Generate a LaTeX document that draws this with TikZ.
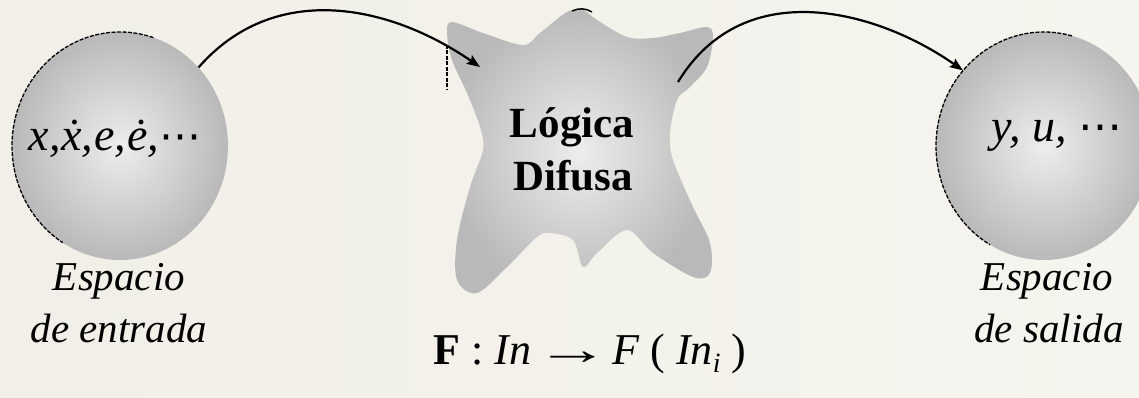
\documentclass[tikz,border=0pt]{standalone}
\usepackage{fontspec}
\setmainfont{Liberation Serif}
\newfontfamily\symfont{DejaVu Sans}
\usetikzlibrary{shapes.geometric,arrows.meta}

\definecolor{bgleft}{HTML}{F1EFE7}
\definecolor{bgmid}{HTML}{FEFEFD}
\definecolor{bgright}{HTML}{F5F4EE}
\definecolor{ballin}{HTML}{EDEDED}
\definecolor{ballout}{HTML}{B9B9B9}

\begin{document}
\begin{tikzpicture}[
        x=1pt, y=-1pt,
        sphere/.style={ellipse, minimum width=216pt, minimum height=228pt, inner sep=0pt,
            inner color=ballin, outer color=ballout},
        rim/.style={line width=1.3pt, dash pattern=on 4pt off 1.5pt},
        flow/.style={line width=2.2pt, -{Stealth[length=13pt, width=10pt, inset=2pt]}},
        vars/.style={anchor=base, font=\fontsize{46}{50}\selectfont\itshape},
        caption/.style={anchor=base, align=center, font=\fontsize{41}{52}\selectfont\itshape},
        blobtext/.style={anchor=base, font=\fontsize{43}{52}\selectfont\bfseries}
    ]
        \useasboundingbox (0,0) rectangle (1139,398);
        \shade[left color=bgleft, middle color=bgmid, right color=bgright] (0,0) rectangle (1139,398);

        % Input and output spaces
        \node[sphere] (entrada) at (120,146) {};
        \node[sphere] (salida) at (1044,146) {};
        \draw[rim] (entrada.center) ++(72:108pt and 114pt) arc[start angle=72, end angle=238, x radius=108pt, y radius=114pt];
        \draw[rim] (salida.center) ++(75:108pt and 114pt) arc[start angle=75, end angle=240, x radius=108pt, y radius=114pt];

        % Fuzzy logic blob
        \shade[inner color=ballin, outer color=ballout]
            plot[smooth cycle, tension=0.55] coordinates {
                (452,22) (483,33) (523,45) (540,33) (567,12) (583,10) (597,20) (627,37)
                (653,38) (680,33) (707,27) (713,37) (707,67) (690,87) (677,100) (670,133)
                (673,160) (693,207) (710,243) (710,273) (693,277) (653,253) (627,230)
                (597,253) (583,267) (573,240) (550,233) (537,237) (507,267) (477,293)
                (457,280) (457,240) (470,187) (483,150) (480,127) (467,93) (452,60) (447,33)};
        \draw[rim] (447,45) -- (447,90);
        \draw[line width=1.5pt] (572,11) .. controls (578,8) and (586,8) .. (592,12);

        % Labels
        \node[vars] (invars) at (115,150) {x,\kern1pt\.x,\kern1pt e,\kern1pt\.e,{\upshape\symfont\fontsize{42}{50}\selectfont ⋯}};
        \node[vars] (outvars) at (1057,142) {y, u, {\upshape\symfont\fontsize{44}{50}\selectfont ⋯}};
        \node[blobtext] (logica) at (572,138) {Lógica};
        \node[blobtext] (difusa) at (573,190) {Difusa};
        \node[caption] (capin) at (119,290) {Espacio};
        \node[caption] (capin2) at (119,342) {de entrada};
        \node[caption] (capout) at (1047,290) {Espacio};
        \node[caption] (capout2) at (1049,342) {de salida};
        \node[anchor=base, font=\fontsize{44}{50}\selectfont] (mapping) at (590,364)
            {\textbf{F} : \textit{In}\kern4pt\scalebox{1.7}[1]{→}\kern2pt\textit{F} ( \textit{In}\raisebox{-8pt}{\fontsize{28}{30}\selectfont\textit{i}} )};

        % Arrows
        \coordinate (blobin) at (480,67);
        \coordinate (blobout) at (678,82);
        \draw[flow] (entrada.45) .. controls (275,-20) and (390,5) .. (blobin);
        \draw[flow] (blobout) .. controls (745,-28) and (880,12) .. (salida.137);
\end{tikzpicture}
\end{document}
